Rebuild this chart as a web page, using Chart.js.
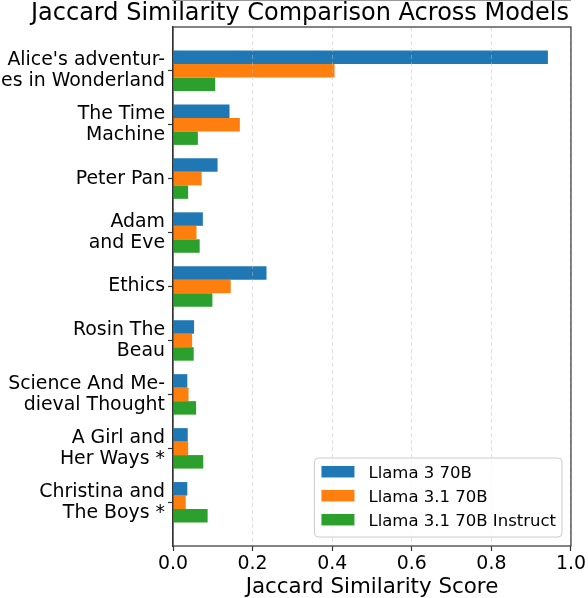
<!DOCTYPE html>
<html>
<head>
<meta charset="utf-8">
<script src="https://cdn.jsdelivr.net/npm/chart.js@4.4.1/dist/chart.umd.min.js"></script>
<style>
  html, body { margin: 0; padding: 0; background: #fff; }
  #wrap { width: 588px; height: 598px; position: relative; }
</style>
</head>
<body>
<div id="wrap"><canvas id="c"></canvas></div>
<script>
const categories = [
  "Alice's adventur-\nes in Wonderland",
  "The Time\nMachine",
  "Peter Pan",
  "Adam\nand Eve",
  "Ethics",
  "Rosin The\nBeau",
  "Science And Me-\ndieval Thought",
  "A Girl and\nHer Ways *",
  "Christina and\nThe Boys *"
];
const seriesNames = ["Llama 3 70B", "Llama 3.1 70B", "Llama 3.1 70B Instruct"];
const llama3_70b = [0.942, 0.142, 0.112, 0.075, 0.235, 0.053, 0.036, 0.037, 0.036];
const llama31_70b = [0.406, 0.168, 0.072, 0.059, 0.145, 0.048, 0.039, 0.038, 0.032];
const llama31_70b_instruct = [0.106, 0.0625, 0.038, 0.067, 0.099, 0.052, 0.058, 0.076, 0.087];
const xTicks = [0.0, 0.2, 0.4, 0.6, 0.8, 1.0];
const colors = ["#1f77b4", "#ff7f0e", "#2ca02c"];

Chart.defaults.font.family = "'DejaVu Sans', sans-serif";
Chart.defaults.color = "#000";

const toPoints = arr => arr.map((v, i) => ({ x: v, y: i }));

const boxPlugin = {
  id: 'boxAndLegend',
  afterDraw(chart) {
    const ctx = chart.ctx;
    const a = chart.chartArea;
    ctx.save();
    ctx.strokeStyle = '#333';
    ctx.lineWidth = 1.2;
    ctx.strokeRect(a.left, a.top, a.right - a.left, a.bottom - a.top);
    const fs = 16.5;
    ctx.font = fs + "px 'DejaVu Sans'";
    let maxW = 0;
    chart.data.datasets.forEach(d => { maxW = Math.max(maxW, ctx.measureText(d.label).width); });
    const padL = 7, patchW = 33, patchH = 11.5, gap = 14, padR = 6, rowH = 24;
    const w = padL + patchW + gap + maxW + padR;
    const h = 79;
    const x0 = a.right - 9 - w;
    const y0 = a.bottom - 9 - h;
    ctx.beginPath();
    if (ctx.roundRect) ctx.roundRect(x0, y0, w, h, 4); else ctx.rect(x0, y0, w, h);
    ctx.fillStyle = 'rgba(255,255,255,0.8)';
    ctx.fill();
    ctx.strokeStyle = '#cccccc';
    ctx.lineWidth = 1;
    ctx.stroke();
    chart.data.datasets.forEach((d, i) => {
      const cy = y0 + 13.7 + rowH * i;
      ctx.fillStyle = d.backgroundColor;
      ctx.fillRect(x0 + padL, cy - patchH / 2, patchW, patchH);
      ctx.fillStyle = '#000';
      ctx.textBaseline = 'alphabetic';
      ctx.textAlign = 'left';
      ctx.fillText(d.label, x0 + padL + patchW + gap, cy + 0.365 * fs);
    });
    ctx.restore();
  }
};

new Chart(document.getElementById('c'), {
  type: 'bar',
  data: {
    datasets: [
      { label: seriesNames[0], data: toPoints(llama3_70b), backgroundColor: colors[0], yAxisID: 'y' },
      { label: seriesNames[1], data: toPoints(llama31_70b), backgroundColor: colors[1], yAxisID: 'y' },
      { label: seriesNames[2], data: toPoints(llama31_70b_instruct), backgroundColor: colors[2], yAxisID: 'y' }
    ]
  },
  options: {
    indexAxis: 'y',
    responsive: true,
    maintainAspectRatio: false,
    animation: false,
    devicePixelRatio: 1,
    categoryPercentage: 0.75,
    barPercentage: 1.0,
    layout: { padding: { left: 0, right: -12, top: 0, bottom: 0 } },
    plugins: {
      legend: { display: false },
      tooltip: { enabled: false },
      title: {
        display: true,
        text: 'Jaccard Similarity Comparison Across Models',
        color: '#000',
        font: { size: 24, weight: 'normal', lineHeight: 1 },
        padding: { top: 1.5, bottom: 1.5 }
      }
    },
    scales: {
      x: {
        type: 'linear',
        min: 0,
        max: 1.0,
        afterBuildTicks: axis => { axis.ticks = xTicks.map(v => ({ value: v })); },
        afterFit: axis => { axis.height = 52; },
        ticks: {
          callback: v => Number(v).toFixed(1),
          font: { size: 18.9 },
          color: '#000',
          padding: 2,
          maxRotation: 0
        },
        grid: {
          color: 'rgba(190,190,190,0.55)',
          lineWidth: 0.9,
          tickColor: '#333',
          tickLength: 5,
          tickWidth: 1.2,
          tickBorderDash: [],
          z: 1
        },
        border: { display: true, color: '#333', width: 1.2, dash: [4, 3] },
        title: {
          display: true,
          text: 'Jaccard Similarity Score',
          color: '#000',
          font: { size: 21.4, lineHeight: 1 },
          padding: { top: 0, bottom: 0 }
        }
      },
      y: {
        type: 'linear',
        position: 'left',
        reverse: true,
        offset: false,
        min: -0.81,
        max: 8.81,
        afterBuildTicks: axis => { axis.ticks = categories.map((c, i) => ({ value: i })); },
        afterFit: axis => { axis.width = 173; },
        ticks: {
          callback: v => categories[v] !== undefined ? categories[v].split('\n') : '',
          font: { size: 18.9, lineHeight: 1.1 },
          color: '#000',
          padding: 3,
          autoSkip: false
        },
        grid: {
          offset: false,
          drawOnChartArea: false,
          color: '#333',
          tickColor: '#333',
          tickLength: 5,
          tickWidth: 1.2
        },
        border: { display: true, color: '#333', width: 1.2 }
      },
      yPad: {
        type: 'linear',
        position: 'right',
        display: true,
        afterFit: axis => { axis.width = 27; },
        ticks: { display: false },
        grid: { display: false, drawTicks: false },
        border: { display: false }
      }
    }
  },
  plugins: [boxPlugin]
});
</script>
</body>
</html>
